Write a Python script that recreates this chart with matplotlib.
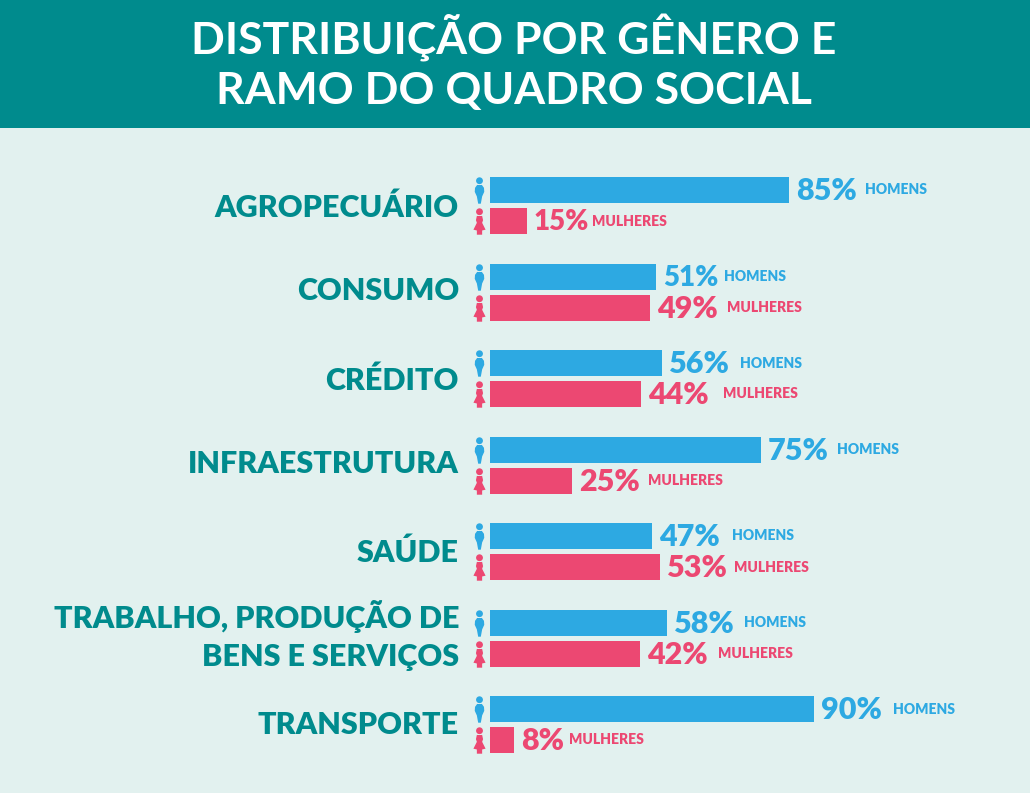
import matplotlib
matplotlib.use("Agg")
import matplotlib.pyplot as plt
import matplotlib.patches as patches
from matplotlib.path import Path

# dados
ramos = ['AGROPECUÁRIO', 'CONSUMO', 'CRÉDITO', 'INFRAESTRUTURA', 'SAÚDE',
         'TRABALHO, PRODUÇÃO DE\nBENS E SERVIÇOS', 'TRANSPORTE']
homens_pct = [85, 51, 56, 75, 47, 58, 90]
mulheres_pct = [15, 49, 44, 25, 53, 42, 8]
# comprimento desenhado das barras (nao e proporcional ao rotulo no original)
homens_barra = [87.9, 48.8, 50.6, 79.7, 47.6, 52.0, 95.3]
mulheres_barra = [10.9, 47.0, 44.4, 24.1, 50.0, 44.1, 7.0]

AZUL = '#2DA9E2'
ROSA = '#EC4872'
TEAL = '#008B8D'
FUNDO = '#E2F1EF'
W, H = 1030, 793

# ajuste vertical do nome de cada ramo e inicio das palavras, em px
ajuste_ramo = [2, -1, 2, -1, 1, -2.5, 0]
x_homens = [865, 724, 740, 837, 732, 744, 893]
x_mulheres = [592, 727, 723, 648, 734, 718, 569]


def icone(mulher=False):
    head = Path.unit_circle().transformed(
        matplotlib.transforms.Affine2D().scale(0.26).translate(0, 0.74))
    if mulher:
        body = [(-0.2, 0.42), (0.2, 0.42), (0.27, 0.1), (0.2, -0.1), (0.46, -0.62),
                (0.2, -0.68), (0.2, -1), (-0.2, -1), (-0.2, -0.68), (-0.46, -0.62),
                (-0.2, -0.1), (-0.27, 0.1), (-0.2, 0.42)]
    else:
        body = [(-0.18, 0.42), (0.18, 0.42), (0.34, 0.2), (0.36, -0.1), (0.2, -0.45),
                (0.1, -1), (-0.1, -1), (-0.2, -0.45), (-0.36, -0.1), (-0.34, 0.2),
                (-0.18, 0.42)]
    return Path.make_compound_path(head, Path(body))


plt.rcParams['font.family'] = ['Lato', 'DejaVu Sans']

fig = plt.figure(figsize=(W / 100, H / 100), dpi=100, facecolor=FUNDO)

# faixa do titulo
fig.add_artist(patches.Rectangle((0, 1 - 128 / H), 1, 128 / H, transform=fig.transFigure,
                                 facecolor=TEAL, edgecolor='none'))
fig.text(514 / W, 1 - 55 / H, 'DISTRIBUIÇÃO POR GÊNERO E', color='white', fontsize=32,
         fontweight='bold', ha='center', va='baseline')
fig.text(514 / W, 1 - 104 / H, 'RAMO DO QUADRO SOCIAL', color='white', fontsize=32,
         fontweight='bold', ha='center', va='baseline')

# eixo: x em %, 3,4 px por unidade; y em linhas, 86,5 px por ramo
ax = fig.add_axes([490 / W, 0, 340 / W, 1 - 128 / H])
ax.set_xlim(0, 100)
ax.set_ylim((H - 205.5) / 86.5, (128 - 205.5) / 86.5)
ax.axis('off')

pos = list(range(len(ramos)))
alt = 26 / 86.5
desl = 15.5 / 86.5
y_h = [p - desl for p in pos]
y_m = [p + desl for p in pos]
ax.barh(y_h, homens_barra, height=alt, color=AZUL)
ax.barh(y_m, mulheres_barra, height=alt, color=ROSA)

x_ico = -11 / 3.4
ax.plot([x_ico] * len(pos), y_h, ls='none', marker=icone(), ms=19, color=AZUL, mew=0, clip_on=False)
ax.plot([x_ico] * len(pos), y_m, ls='none', marker=icone(True), ms=19, color=ROSA, mew=0, clip_on=False)

for i in pos:
    ax.annotate(ramos[i], (0, pos[i] + ajuste_ramo[i] / 86.5), xytext=(-31 * 0.72, 0),
                textcoords='offset points', ha='right', va='center', color=TEAL,
                fontsize=22, fontweight='heavy', linespacing=1.42, annotation_clip=False)
    for y, pct, barra, cor, nome, x_nome in (
            (y_h[i], homens_pct[i], homens_barra[i], AZUL, 'HOMENS', x_homens[i]),
            (y_m[i], mulheres_pct[i], mulheres_barra[i], ROSA, 'MULHERES', x_mulheres[i])):
        # o "1" e estreito no original, Lato usa digitos de largura fixa
        tam = 20 if '1' in str(pct) else 22
        ax.annotate(f'{pct}%', (barra, y), xytext=(5, -1), textcoords='offset points',
                    ha='left', va='center', color=cor, fontsize=tam, fontweight='heavy')
        ax.text((x_nome - 490) / 3.4, y, nome, ha='left', va='center', color=cor,
                fontsize=10, fontweight='heavy')

fig.savefig('out.png', dpi=100, facecolor=FUNDO)
